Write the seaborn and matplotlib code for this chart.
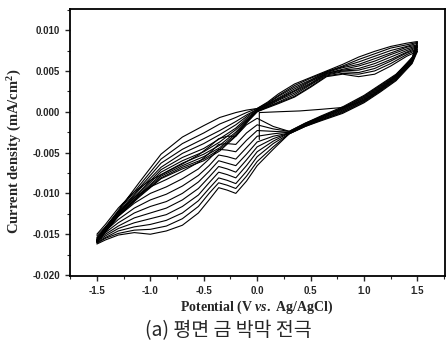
import numpy as np
import pandas as pd
import matplotlib
matplotlib.use("Agg")
import matplotlib.pyplot as plt
import seaborn as sns
from matplotlib.ticker import MultipleLocator

sns.set_style("ticks")
plt.rcParams['font.family'] = ['Liberation Serif', 'DejaVu Sans']
plt.rcParams['mathtext.fontset'] = 'custom'
plt.rcParams['mathtext.rm'] = 'Liberation Serif:bold'
plt.rcParams['mathtext.it'] = 'Liberation Serif:italic:bold'
plt.rcParams['mathtext.bf'] = 'Liberation Serif:bold'

# 전위 격자 (V vs. Ag/AgCl)
v_anodic = [-1.5, -1.3, -1.1, -0.9, -0.7, -0.5, -0.35, -0.2, -0.1, 0.0,
            0.1, 0.2, 0.35, 0.5, 0.65, 0.8, 0.95, 1.1, 1.25, 1.4, 1.5]
v_cathodic = [1.5, 1.45, 1.3, 1.15, 1.0, 0.8, 0.6, 0.45, 0.3, 0.15, 0.0, -0.1,
              -0.2, -0.28, -0.36, -0.45, -0.55, -0.7, -0.85, -1.0, -1.15, -1.3, -1.42, -1.5]

# 정방향 주사 전류 (mA/cm2), 사이클별
i_anodic = [
    [-0.0155, -0.0121, -0.0086, -0.0052, -0.0031, -0.0017, -0.0007, -0.0001, 0.0002, 0.0004,
     0.0012, 0.0022, 0.0034, 0.0042, 0.0050, 0.0058, 0.0067, 0.0074, 0.0080, 0.0084, 0.0086],
    [-0.0156, -0.0122, -0.0090, -0.0058, -0.0039, -0.0026, -0.0015, -0.0007, -0.0001, 0.0004,
     0.0011, 0.0020, 0.0032, 0.0041, 0.0049, 0.0056, 0.0064, 0.0071, 0.0078, 0.0082, 0.0085],
    [-0.0157, -0.0124, -0.0093, -0.0063, -0.0046, -0.0033, -0.0023, -0.0012, -0.0004, 0.0003,
     0.0010, 0.0019, 0.0030, 0.0039, 0.0049, 0.0055, 0.0061, 0.0068, 0.0075, 0.0080, 0.0084],
    [-0.0157, -0.0125, -0.0095, -0.0068, -0.0051, -0.0039, -0.0028, -0.0016, -0.0006, 0.0003,
     0.0009, 0.0017, 0.0028, 0.0038, 0.0048, 0.0054, 0.0058, 0.0065, 0.0072, 0.0079, 0.0082],
    [-0.0158, -0.0125, -0.0098, -0.0071, -0.0056, -0.0045, -0.0033, -0.0020, -0.0008, 0.0002,
     0.0009, 0.0016, 0.0026, 0.0037, 0.0047, 0.0052, 0.0056, 0.0062, 0.0070, 0.0077, 0.0081],
    [-0.0158, -0.0126, -0.0099, -0.0074, -0.0060, -0.0049, -0.0037, -0.0022, -0.0010, 0.0002,
     0.0008, 0.0015, 0.0025, 0.0035, 0.0047, 0.0051, 0.0053, 0.0059, 0.0067, 0.0075, 0.0080],
    [-0.0159, -0.0127, -0.0101, -0.0077, -0.0063, -0.0052, -0.0041, -0.0025, -0.0011, 0.0001,
     0.0007, 0.0014, 0.0023, 0.0034, 0.0046, 0.0050, 0.0051, 0.0056, 0.0064, 0.0073, 0.0079],
    [-0.0159, -0.0127, -0.0102, -0.0079, -0.0066, -0.0055, -0.0044, -0.0027, -0.0012, 0.0001,
     0.0006, 0.0012, 0.0021, 0.0033, 0.0045, 0.0049, 0.0048, 0.0053, 0.0062, 0.0072, 0.0077],
    [-0.0160, -0.0128, -0.0103, -0.0081, -0.0068, -0.0058, -0.0046, -0.0029, -0.0013, 0.0000,
     0.0006, 0.0011, 0.0019, 0.0031, 0.0044, 0.0047, 0.0046, 0.0050, 0.0059, 0.0070, 0.0076],
    [-0.0160, -0.0128, -0.0104, -0.0082, -0.0070, -0.0060, -0.0048, -0.0030, -0.0014, 0.0000,
     0.0005, 0.0010, 0.0018, 0.0030, 0.0043, 0.0046, 0.0043, 0.0046, 0.0056, 0.0068, 0.0074],
]

# 역방향 주사 전류 (mA/cm2), 사이클별
i_cathodic = [
    [0.0086, 0.0066, 0.0046, 0.0033, 0.0020, 0.0006, -0.0005, -0.0014, -0.0024, -0.0018, -0.0008, -0.0016,
     -0.0030, -0.0030, -0.0033, -0.0043, -0.0053, -0.0064, -0.0074, -0.0084, -0.0098, -0.0118, -0.0138, -0.0150],
    [0.0085, 0.0065, 0.0045, 0.0032, 0.0019, 0.0005, -0.0006, -0.0014, -0.0024, -0.0021, -0.0016, -0.0026,
     -0.0040, -0.0039, -0.0040, -0.0051, -0.0062, -0.0073, -0.0083, -0.0092, -0.0105, -0.0123, -0.0141, -0.0152],
    [0.0084, 0.0065, 0.0044, 0.0031, 0.0018, 0.0004, -0.0006, -0.0015, -0.0025, -0.0024, -0.0023, -0.0035,
     -0.0049, -0.0047, -0.0046, -0.0058, -0.0070, -0.0082, -0.0092, -0.0100, -0.0112, -0.0128, -0.0144, -0.0154],
    [0.0082, 0.0064, 0.0043, 0.0030, 0.0017, 0.0004, -0.0007, -0.0015, -0.0025, -0.0027, -0.0030, -0.0044,
     -0.0058, -0.0055, -0.0053, -0.0066, -0.0078, -0.0091, -0.0101, -0.0108, -0.0118, -0.0132, -0.0146, -0.0156],
    [0.0081, 0.0063, 0.0043, 0.0029, 0.0016, 0.0003, -0.0008, -0.0016, -0.0026, -0.0030, -0.0037, -0.0052,
     -0.0066, -0.0063, -0.0060, -0.0073, -0.0086, -0.0100, -0.0110, -0.0116, -0.0124, -0.0136, -0.0148, -0.0157],
    [0.0080, 0.0062, 0.0042, 0.0028, 0.0015, 0.0002, -0.0008, -0.0016, -0.0026, -0.0033, -0.0043, -0.0059,
     -0.0074, -0.0070, -0.0067, -0.0080, -0.0094, -0.0108, -0.0118, -0.0124, -0.0130, -0.0140, -0.0150, -0.0158],
    [0.0079, 0.0062, 0.0041, 0.0027, 0.0014, 0.0001, -0.0009, -0.0017, -0.0026, -0.0036, -0.0049, -0.0066,
     -0.0081, -0.0077, -0.0074, -0.0087, -0.0102, -0.0116, -0.0126, -0.0131, -0.0136, -0.0143, -0.0152, -0.0159],
    [0.0077, 0.0061, 0.0040, 0.0026, 0.0013, 0.0000, -0.0010, -0.0017, -0.0027, -0.0039, -0.0055, -0.0073,
     -0.0088, -0.0084, -0.0081, -0.0094, -0.0109, -0.0124, -0.0133, -0.0138, -0.0141, -0.0146, -0.0154, -0.0160],
    [0.0076, 0.0060, 0.0039, 0.0025, 0.0012, -0.0001, -0.0010, -0.0018, -0.0027, -0.0043, -0.0061, -0.0079,
     -0.0094, -0.0090, -0.0087, -0.0100, -0.0116, -0.0131, -0.0140, -0.0144, -0.0145, -0.0149, -0.0155, -0.0161],
    [0.0074, 0.0059, 0.0038, 0.0024, 0.0011, -0.0002, -0.0011, -0.0018, -0.0027, -0.0046, -0.0066, -0.0085,
     -0.0100, -0.0096, -0.0093, -0.0108, -0.0124, -0.0139, -0.0146, -0.0150, -0.0148, -0.0151, -0.0157, -0.0162],
]

# 첫 주사 (0 V 부근에서 시작)
v_first = [0.02, 0.02, 0.2, 0.4, 0.6, 0.78, 0.9, 1.0, 1.1, 1.22, 1.35, 1.5]
i_first = [-0.0034, -0.0001, 0.0000, 0.0001, 0.0003, 0.0005, 0.0009, 0.0014, 0.0022, 0.0034, 0.0052, 0.0074]

x_ticks = [-1.5, -1.0, -0.5, 0.0, 0.5, 1.0, 1.5]
x_labels = ['-1.5', '-1.0', '-0.5', '0.0', '0.5', '1.0', '1.5']
y_ticks = [-0.020, -0.015, -0.010, -0.005, 0.000, 0.005, 0.010]
y_labels = ['-0.020', '-0.015', '-0.010', '-0.005', '0.000', '0.005', '0.010']

# 데이터 프레임 구성
rows = []
for k in range(len(i_anodic)):
    for v, i in zip(v_anodic + v_cathodic, i_anodic[k] + i_cathodic[k]):
        rows.append({'cycle': k, 'V': v, 'I': i})
df = pd.DataFrame(rows)
df_first = pd.DataFrame({'V': v_first, 'I': i_first})

fig = plt.figure(figsize=(4.47, 3.41), dpi=100)
ax = fig.add_axes([0.157, 0.191, 0.839, 0.783])

sns.lineplot(data=df, x='V', y='I', units='cycle', estimator=None, sort=False,
             color='black', linewidth=0.8, ax=ax, legend=False)
sns.lineplot(data=df_first, x='V', y='I', estimator=None, sort=False,
             color='black', linewidth=0.8, ax=ax)

ax.set_xlim(-1.75, 1.76)
ax.set_ylim(-0.0201, 0.0126)
ax.set_xticks(x_ticks)
ax.set_xticklabels(x_labels, fontfamily='Liberation Sans', fontweight='bold', fontsize=7)
ax.set_yticks(y_ticks)
ax.set_yticklabels(y_labels, fontfamily='Liberation Sans', fontweight='bold', fontsize=7)
ax.xaxis.set_minor_locator(MultipleLocator(0.25))
ax.yaxis.set_minor_locator(MultipleLocator(0.0025))
ax.tick_params(which='major', direction='out', length=3.5, width=1.0, pad=4)
ax.tick_params(which='minor', direction='out', length=2, width=0.8)
for s in ax.spines.values():
    s.set_visible(True)
    s.set_linewidth(1.3)
    s.set_color('black')

ax.set_xlabel('')
ax.set_ylabel('')
fig.text(0.575, 1 - 307 / 341, r'Potential (V $\mathit{vs.}$ Ag/AgCl)',
         ha='center', va='center', fontsize=10, fontweight='bold')
fig.text(15 / 447, 1 - 151 / 341, r'Current density (mA/cm$^{2}$)',
         ha='center', va='center', rotation=90, fontsize=10.5, fontweight='bold')
fig.text(228 / 447, 1 - 331 / 341, '(a) 평면 금 박막 전극',
         ha='center', va='center', fontsize=14,
         family=['Noto Sans CJK KR', 'DejaVu Sans'])

fig.savefig('out.png', dpi=100)
